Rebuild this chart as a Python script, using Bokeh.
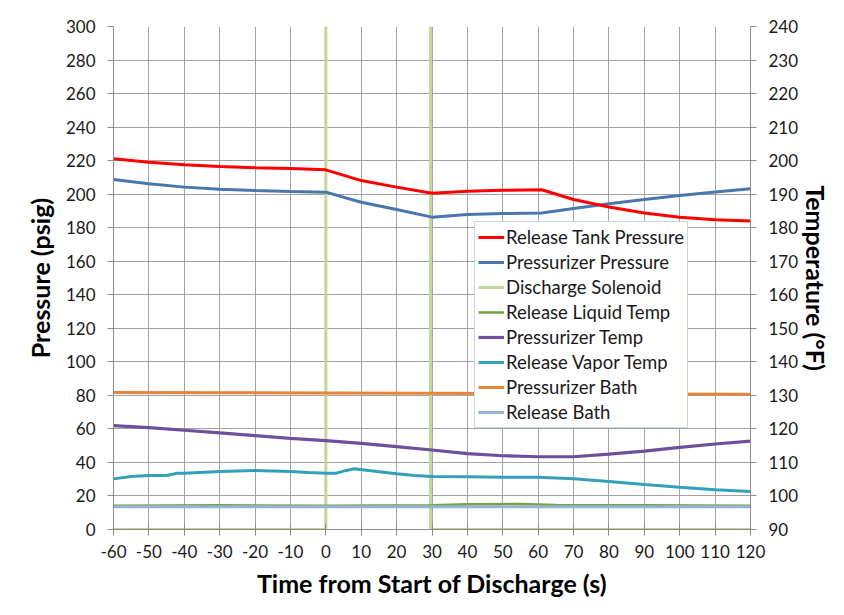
from bokeh.plotting import figure
from bokeh.models import Range1d, LinearAxis, SingleIntervalTicker, Legend, LegendItem, PrintfTickFormatter
from bokeh.embed import file_html
from bokeh.resources import INLINE

# ---- data ----
# Pressures (psig, left axis)
tank_t = [-60, -50, -40, -30, -20, -10, 0, 10, 20, 30, 40, 50, 61, 70, 80, 90, 100, 110, 120]
tank_p = [221.1, 219.1, 217.5, 216.5, 215.7, 215.3, 214.5, 208.1, 204.2, 200.6, 201.8, 202.3, 202.6,
          196.8, 192.3, 188.8, 186.3, 184.8, 184.0]

przr_t = [-60, -50, -40, -30, -20, -10, 0, 10, 20, 30, 40, 50, 61, 70, 80, 90, 100, 110, 120]
przr_p = [208.7, 206.2, 204.2, 203.0, 202.2, 201.6, 201.2, 195.2, 190.9, 186.3, 187.9, 188.4, 188.8,
          191.5, 194.3, 196.8, 199.2, 201.3, 203.3]

sol_t = [-60, 0, 0, 29.6, 29.6, 120]
sol_v = [0, 0, 500, 500, 0, 0]

# Temperatures (deg F, right axis)
liq_t = [-60, -30, 0, 30, 40, 55, 65, 90, 120]
liq_T = [97.1, 97.2, 97.1, 97.2, 97.5, 97.6, 97.3, 97.2, 97.1]

przr_temp_t = [-60, -50, -40, -30, -20, -10, 0, 10, 20, 30, 40, 50, 60, 70, 80, 90, 100, 110, 120]
przr_temp_T = [121.0, 120.4, 119.6, 118.8, 118.0, 117.2, 116.5, 115.7, 114.7, 113.7, 112.6, 112.0,
               111.7, 111.7, 112.5, 113.35, 114.5, 115.5, 116.35]

vap_t = [-60, -55, -50, -45, -42, -40, -30, -20, -10, -5, 0, 3, 5, 8, 12, 20, 25, 30, 40, 50, 60,
         70, 80, 90, 100, 110, 120]
vap_T = [105.1, 105.8, 106.1, 106.1, 106.8, 106.8, 107.3, 107.6, 107.3, 107.0, 106.8, 106.8, 107.4,
         108.1, 107.6, 106.6, 106.1, 105.8, 105.7, 105.6, 105.6, 105.1, 104.3, 103.4, 102.6, 101.85,
         101.35]

pbath_t = [-60, 0, 60, 120]
pbath_T = [130.85, 130.7, 130.5, 130.3]

rbath_t = [-60, 0, 60, 120]
rbath_T = [96.8, 96.75, 96.8, 96.75]

FONT = "Lato"
TXT = "#1a1a1a"
GRID = "#a3a3a3"

p = figure(width=836, height=607, x_range=Range1d(-60, 120), y_range=Range1d(0, 300),
           output_backend="svg", toolbar_location=None,
           min_border_left=113, min_border_right=86, min_border_top=26, min_border_bottom=78)
p.extra_y_ranges = {"temp": Range1d(90, 240)}
p.outline_line_color = None
p.background_fill_color = "white"
p.border_fill_color = "white"

xt = SingleIntervalTicker(interval=10)
yt = SingleIntervalTicker(interval=20)
p.xaxis.ticker = xt
p.yaxis.ticker = yt
p.xgrid.ticker = xt
p.ygrid.ticker = yt
p.xgrid.grid_line_color = GRID
p.ygrid.grid_line_color = GRID
p.xgrid.grid_line_width = 1
p.ygrid.grid_line_width = 1

raxis = LinearAxis(y_range_name="temp", ticker=SingleIntervalTicker(interval=10))
p.add_layout(raxis, "right")

for ax in [p.xaxis[0], p.yaxis[0], raxis]:
    ax.formatter = PrintfTickFormatter(format="%d")
    ax.axis_line_color = "#8c8c8c"
    ax.major_tick_line_color = "#8c8c8c"
    ax.minor_tick_line_color = None
    ax.major_label_text_font = FONT
    ax.major_label_text_font_size = "17px"
    ax.major_label_text_color = TXT
    ax.axis_label_text_font = FONT
    ax.axis_label_text_font_size = "25px"
    ax.axis_label_text_font_style = "bold"
    ax.axis_label_text_color = "black"
    ax.major_tick_out = 6
    ax.major_tick_in = 0
    ax.major_label_standoff = 12

p.xaxis.major_tick_in = 6
p.xaxis.major_label_standoff = 9
p.xaxis.axis_label = "Time from Start of Discharge (s)"
p.xaxis.axis_label_standoff = 7
p.yaxis.axis_label = "Pressure (psig)"
p.yaxis.axis_label_standoff = 8
raxis.axis_label = "Temperature (°F)"
raxis.axis_label_standoff = 0

r_sol = p.line(sol_t, sol_v, line_color="#c3d69b", line_width=3)
r_liq = p.line(liq_t, liq_T, line_color="#77a33c", line_width=2.5, y_range_name="temp")
r_rbath = p.line(rbath_t, rbath_T, line_color="#95b3d7", line_width=3, y_range_name="temp")
r_pbath = p.line(pbath_t, pbath_T, line_color="#e8833a", line_width=3, y_range_name="temp")
r_vap = p.line(vap_t, vap_T, line_color="#31a0b8", line_width=3, y_range_name="temp")
r_ptemp = p.line(przr_temp_t, przr_temp_T, line_color="#6e4f9c", line_width=3.2, y_range_name="temp")
r_przr = p.line(przr_t, przr_p, line_color="#4a76ae", line_width=3)
r_tank = p.line(tank_t, tank_p, line_color="#ff0000", line_width=3)

legend = Legend(items=[
    LegendItem(label="Release Tank Pressure", renderers=[r_tank]),
    LegendItem(label="Pressurizer Pressure", renderers=[r_przr]),
    LegendItem(label="Discharge Solenoid", renderers=[r_sol]),
    LegendItem(label="Release Liquid Temp", renderers=[r_liq]),
    LegendItem(label="Pressurizer Temp", renderers=[r_ptemp]),
    LegendItem(label="Release Vapor Temp", renderers=[r_vap]),
    LegendItem(label="Pressurizer Bath", renderers=[r_pbath]),
    LegendItem(label="Release Bath", renderers=[r_rbath]),
], location=(361, 101))
legend.label_text_font = FONT
legend.label_text_font_size = "18.5px"
legend.label_text_color = TXT
legend.glyph_width = 26
legend.glyph_height = 24
legend.label_height = 24
legend.spacing = 1
legend.padding = 3
legend.margin = 0
legend.label_standoff = 2
legend.border_line_color = "#8eb0dc"
legend.border_line_width = 1.5
legend.background_fill_color = "white"
legend.background_fill_alpha = 1
p.add_layout(legend, "center")

open("out.html", "w").write(file_html(p, INLINE))
